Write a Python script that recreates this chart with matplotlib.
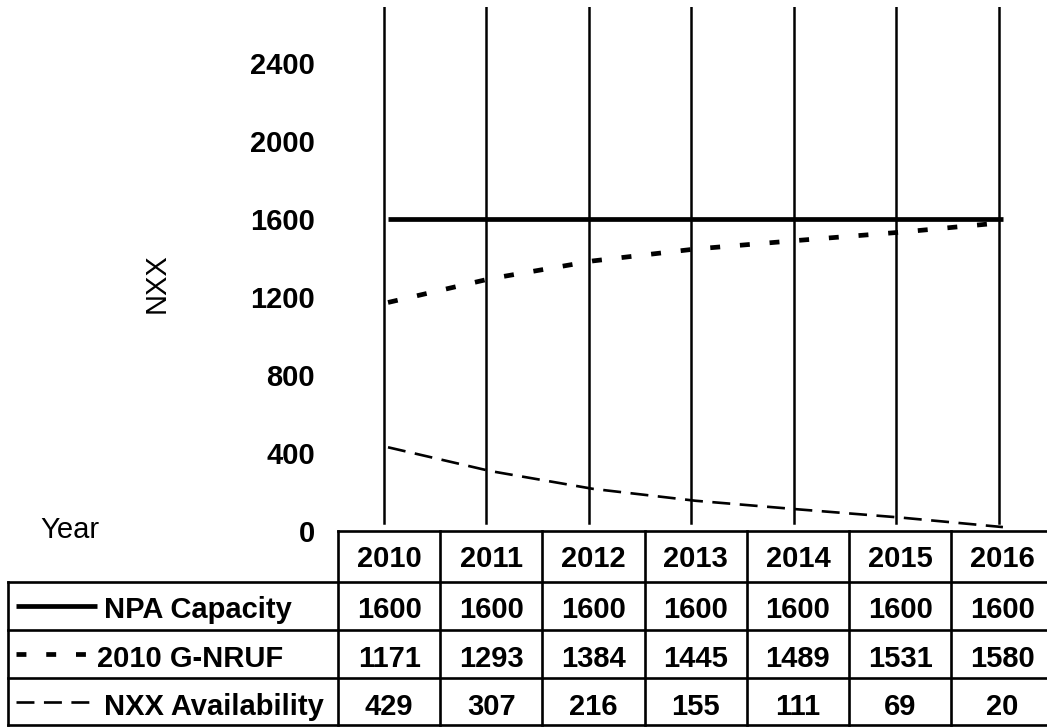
import matplotlib
matplotlib.use("Agg")
import matplotlib.pyplot as plt
from matplotlib.lines import Line2D

plt.rcParams['font.family'] = ['Liberation Sans', 'DejaVu Sans']

# ---- data ----
years = ['2010', '2011', '2012', '2013', '2014', '2015', '2016']
npa_capacity = [1600, 1600, 1600, 1600, 1600, 1600, 1600]
g_nruf_2010 = [1171, 1293, 1384, 1445, 1489, 1531, 1580]
nxx_availability = [429, 307, 216, 155, 111, 69, 20]
series_names = ['NPA Capacity', '2010 G-NRUF', 'NXX Availability']
y_ticks = [0, 400, 800, 1200, 1600, 2000, 2400]
y_label = 'NXX'
corner_label = 'Year'

# ---- styles ----
FS = 21
W, H = 1047, 727
styles = [
    dict(color='black', lw=3.4, linestyle='-'),
    dict(color='black', lw=3.4, linestyle=(0, (2.1, 4.2))),
    dict(color='black', lw=1.9, linestyle=(0, (6.8, 3.6))),
]

fig = plt.figure(figsize=(W / 100, H / 100), dpi=100)

# main plot axes (pixel layout)
ax_l, ax_r, ax_t, ax_b = 338, 1047, 7, 531
ax = fig.add_axes([ax_l / W, (H - ax_b) / H, (ax_r - ax_l) / W, (ax_b - ax_t) / H])
x_idx = list(range(len(years)))
ax.set_xlim(-0.488, 6.43)
ax.set_ylim(0, 2685)
for s, vals in zip(styles, [npa_capacity, g_nruf_2010, nxx_availability]):
    ax.plot(x_idx, vals, **s, solid_capstyle='butt', dash_capstyle='butt')
for xi in x_idx:
    ax.axvline(xi - 0.04, ymin=0.016, ymax=1.0, color='black', lw=1.8, zorder=0)
for sp in ax.spines.values():
    sp.set_visible(False)
ax.set_xticks([])
ax.set_yticks(y_ticks)
ax.set_yticklabels([str(t) for t in y_ticks], fontsize=FS, fontweight='bold')
ax.tick_params(axis='y', length=0, pad=16.5)
ax.patch.set_visible(False)

# overlay axes in pixel coords for table
ov = fig.add_axes([0, 0, 1, 1])
ov.set_xlim(0, W)
ov.set_ylim(H, 0)
ov.axis('off')
ov.patch.set_visible(False)

TLW = 1.9
col_left = 338
col_w = 102.2
row_edges = [531, 582, 630, 678, 725]
label_left = 8
ncols = len(years)

# horizontal lines
ov.plot([col_left, W], [row_edges[0]] * 2, color='black', lw=TLW)
for y in row_edges[1:]:
    ov.plot([label_left, W], [y, y], color='black', lw=TLW)
# vertical lines
ov.plot([label_left] * 2, [row_edges[1], row_edges[-1]], color='black', lw=TLW)
for k in range(ncols):
    x = col_left + k * col_w
    ov.plot([x, x], [row_edges[0], row_edges[-1]], color='black', lw=TLW)

# header text
for k, yr in enumerate(years):
    cx = col_left + (k + 0.5) * col_w
    ov.text(cx, 567, yr, fontsize=FS, fontweight='bold', ha='center', va='baseline')

# data rows
baselines = [618, 667, 715]
for r, (name, vals, s) in enumerate(zip(series_names,
                                         [npa_capacity, g_nruf_2010, nxx_availability],
                                         styles)):
    yb = baselines[r]
    ymid = (row_edges[r + 1] + row_edges[r + 2]) / 2
    # legend sample
    ln = Line2D([16, 97 if r == 0 else 92], [ymid, ymid], **s,
                solid_capstyle='butt', dash_capstyle='butt')
    ov.add_line(ln)
    ov.text(104 if r != 1 else 97, yb, name, fontsize=FS, fontweight='bold',
            ha='left', va='baseline')
    for k, v in enumerate(vals):
        cx = col_left + (k + 0.5) * col_w
        ov.text(cx, yb, str(v), fontsize=FS, fontweight='bold', ha='center', va='baseline')

# corner and axis labels
ov.text(40, 538, corner_label, fontsize=FS, ha='left', va='baseline')
ov.text(157, 283, y_label, fontsize=FS, rotation=90, ha='center', va='center')

fig.savefig('out.png', dpi=100)
